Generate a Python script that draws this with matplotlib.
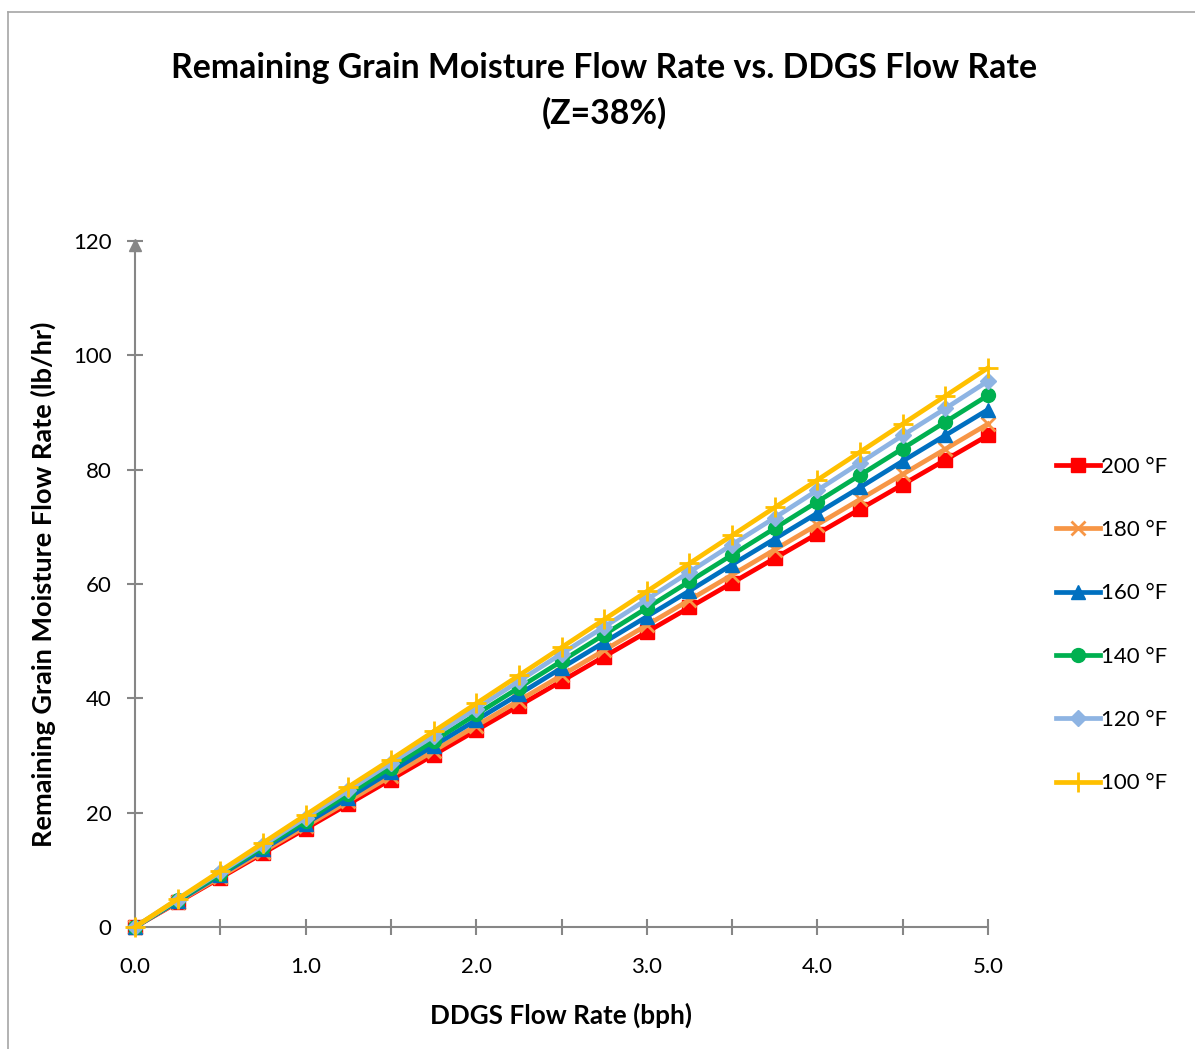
import matplotlib
matplotlib.use("Agg")
import matplotlib.pyplot as plt
from matplotlib.lines import Line2D

plt.rcParams['font.family'] = ['Lato', 'DejaVu Sans']

flow = [0.0, 0.25, 0.5, 0.75, 1.0, 1.25, 1.5, 1.75, 2.0, 2.25, 2.5,
        2.75, 3.0, 3.25, 3.5, 3.75, 4.0, 4.25, 4.5, 4.75, 5.0]

t200 = [0, 4.3, 8.6, 12.9, 17.2, 21.5, 25.8, 30.1, 34.4, 38.7, 43.0,
        47.3, 51.6, 55.9, 60.2, 64.5, 68.8, 73.1, 77.4, 81.7, 86.0]
t180 = [0, 4.4, 8.8, 13.2, 17.6, 22.0, 26.4, 30.8, 35.2, 39.6, 44.0,
        48.4, 52.8, 57.2, 61.6, 66.0, 70.4, 74.8, 79.2, 83.6, 88.0]
t160 = [0, 4.5, 9.1, 13.6, 18.1, 22.6, 27.2, 31.7, 36.2, 40.7, 45.3,
        49.8, 54.3, 58.8, 63.4, 67.9, 72.4, 76.9, 81.5, 86.0, 90.5]
t140 = [0, 4.65, 9.3, 13.95, 18.6, 23.25, 27.9, 32.55, 37.2, 41.85, 46.5,
        51.15, 55.8, 60.45, 65.1, 69.75, 74.4, 79.05, 83.7, 88.35, 93.0]
t120 = [0, 4.8, 9.6, 14.3, 19.1, 23.9, 28.7, 33.4, 38.2, 43.0, 47.8,
        52.5, 57.3, 62.1, 66.9, 71.6, 76.4, 81.2, 86.0, 90.7, 95.5]
t100 = [0, 4.9, 9.8, 14.7, 19.6, 24.5, 29.3, 34.2, 39.1, 44.0, 48.9,
        53.8, 58.7, 63.6, 68.5, 73.4, 78.2, 83.1, 88.0, 92.9, 97.8]

series_labels = ['200 °F', '180 °F', '160 °F', '140 °F', '120 °F', '100 °F']
series_values = [t200, t180, t160, t140, t120, t100]
x_tick_labels = ['0.0', '1.0', '2.0', '3.0', '4.0', '5.0']

colors = ['#FF0000', '#F79646', '#0070C0', '#00B050', '#8EB4E3', '#FFC000']
markers = ['s', 'x', '^', 'o', 'D', '+']
msizes = [10, 10, 10, 10, 8, 14]

W, H = 1195, 1049
fig = plt.figure(figsize=(W / 100, H / 100), dpi=100)
ax = fig.add_axes([135 / W, 1 - 927 / H, (988 - 135) / W, (927 - 241) / H])

for lab, vals, c, m, ms in zip(series_labels, series_values, colors, markers, msizes):
    mew = 2 if m in ('x', '+') else 1
    ax.plot(flow, vals, color=c, lw=3.4, marker=m, markersize=ms,
            markeredgecolor=c, markerfacecolor=c, markeredgewidth=mew,
            label=lab, clip_on=False, zorder=3)

ax.set_xlim(0, 5)
ax.set_ylim(0, 120)
gray = '#868686'
for s in ['top', 'right']:
    ax.spines[s].set_visible(False)
for s in ['left', 'bottom']:
    ax.spines[s].set_color(gray)
    ax.spines[s].set_linewidth(1.5)

ax.set_xticks([0, 1, 2, 3, 4, 5])
ax.set_xticklabels(x_tick_labels)
ax.set_xticks([0.5, 1.5, 2.5, 3.5, 4.5], minor=True)
ax.set_yticks([0, 20, 40, 60, 80, 100, 120])
ax.tick_params(axis='both', which='both', direction='inout', length=11.5,
               width=1.5, color=gray, labelsize=16, labelcolor='black')
ax.tick_params(axis='x', which='major', pad=16)
ax.tick_params(axis='y', which='major', pad=11)

# arrow at top of y axis
ax.plot([0], [119.3], marker='^', color=gray, markersize=9, clip_on=False, zorder=4)

ax.set_xlabel('DDGS Flow Rate (bph)', fontsize=18.8, fontweight='bold', labelpad=18)
ax.set_ylabel('Remaining Grain Moisture Flow Rate (lb/hr)', fontsize=19.5,
              fontweight='bold', labelpad=12)

fig.text(604 / W, 1 - 91 / H,
         'Remaining Grain Moisture Flow Rate vs. DDGS Flow Rate\n(Z=38%)',
         ha='center', va='center', fontsize=24.3, fontweight='bold', linespacing=1.5)

leg = ax.legend(loc='center left', bbox_to_anchor=(1.069, 0.44), frameon=False,
                fontsize=16, labelspacing=1.95, handlelength=2.0, handletextpad=0.05,
                borderaxespad=0)

# outer chart frame
fig.add_artist(Line2D([8 / W, 8 / W], [0, 1 - 12 / H], color='#A6A6A6', lw=1.2,
                      transform=fig.transFigure))
fig.add_artist(Line2D([8 / W, 1], [1 - 12 / H, 1 - 12 / H], color='#A6A6A6', lw=1.2,
                      transform=fig.transFigure))

fig.savefig('out.png', dpi=100)
